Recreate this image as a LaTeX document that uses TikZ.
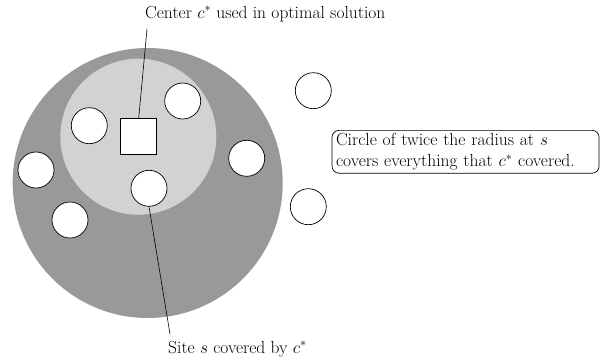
\documentclass[tikz,border=0pt]{standalone}
\begin{document}
\begin{tikzpicture}[x=1pt,y=-1pt,
  site/.style={circle,draw=black,fill=white,line width=0.7pt,minimum size=36pt,inner sep=0pt},
  lbl/.style={font=\fontsize{17.5}{21}\selectfont,inner sep=0pt},
  callout/.style={line width=0.6pt}]
\useasboundingbox (0,0) rectangle (605,359);
\fill[fill={rgb,255:red,153;green,153;blue,153}] (147.7,183) circle[radius=135];
\fill[fill={rgb,255:red,209;green,210;blue,212}] (138.3,136.7) circle[radius=78];
\node[draw=black,fill=white,line width=0.7pt,minimum size=36pt,inner sep=0pt] (c) at (138.7,136.7) {};
\node[site] (s1) at (89.3,125.7) {};
\node[site] (s2) at (182.7,101) {};
\node[site] (s3) at (246.7,158.3) {};
\node[site] (s) at (149,188.3) {};
\node[site] (s5) at (36,170) {};
\node[site] (s6) at (70,220) {};
\node[site] (s7) at (313.3,90.7) {};
\node[site] (s8) at (308.3,206.7) {};
\node[lbl,anchor=base west] (top) at (145,18) {Center $c^*$ used in optimal solution};
\node[lbl,anchor=base west] (bot) at (168,353) {Site $s$ covered by $c^*$};
\coordinate (tA) at (147,29);
\coordinate (bA) at (170,334);
\draw[callout] (c.north) -- (tA);
\draw[callout] (s.south) -- (bA);
\node[lbl,draw=black,rounded corners=7pt,line width=0.7pt,align=left,text width=259pt,inner xsep=4pt,inner ysep=3pt,anchor=north west] (box) at (331.7,130)
  {Circle of twice the radius at $s$\\covers everything that $c^*$ covered.};
\end{tikzpicture}
\end{document}
